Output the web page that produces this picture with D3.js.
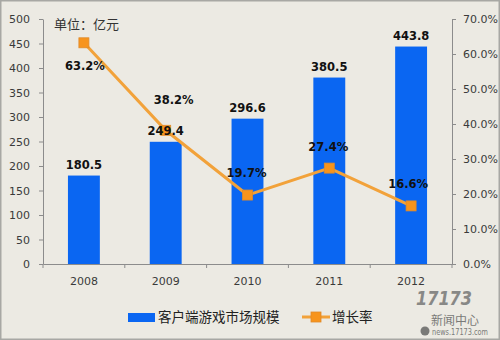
<!DOCTYPE html>
<html><head><meta charset="utf-8">
<script src="https://cdn.jsdelivr.net/npm/d3@7"></script>
<style>
html,body{margin:0;padding:0;background:#ECEAE3;}
svg{display:block;}
</style></head>
<body>
<svg id="chart" width="500" height="340"></svg>
<script>
const years = ["2008","2009","2010","2011","2012"];
const marketSize = [180.5, 249.4, 296.6, 380.5, 443.8];
const growthRate = [63.2, 38.2, 19.7, 27.4, 16.6];
const leftTicks = [0,50,100,150,200,250,300,350,400,450,500];
const rightTicks = [0,10,20,30,40,50,60,70];
const barName = "客户端游戏市场规模";
const lineName = "增长率";
const unitText = "单位：亿元";

const svg = d3.select("#chart");
const W = 500, H = 340;
const m = {l:43, r:48, t:19, b:76};
const iw = W - m.l - m.r, ih = H - m.t - m.b;

svg.append("rect").attr("x",0.5).attr("y",0.5).attr("width",W-1).attr("height",H-1)
  .attr("fill","#ECEAE3").attr("stroke","#A8A8A4").attr("stroke-width",2);

const x = d3.scaleBand().domain(years).range([m.l, m.l+iw]).paddingInner(0.61).paddingOuter(0.305);
const xb = d3.scaleBand().domain(years).range([m.l, m.l+iw]);
const yL = d3.scaleLinear().domain([0,500]).range([m.t+ih, m.t]);
const yR = d3.scaleLinear().domain([0,70]).range([m.t+ih, m.t]);

const axisColor = "#8C8C8C";
const tickFont = "DejaVu Sans, sans-serif";

const gl = svg.append("g").attr("transform",`translate(${m.l},0)`)
  .call(d3.axisLeft(yL).tickValues(leftTicks).tickSize(4).tickPadding(9).tickSizeOuter(0));
const gr = svg.append("g").attr("transform",`translate(${m.l+iw},0)`)
  .call(d3.axisRight(yR).tickValues(rightTicks).tickSize(4).tickPadding(7).tickSizeOuter(0)
    .tickFormat(d=>d.toFixed(1)+"%"));
const gb = svg.append("g").attr("transform",`translate(0,${m.t+ih})`)
  .call(d3.axisBottom(xb).tickSize(0).tickPadding(13));
const bounds = years.map(y=>xb(y)).concat([m.l+iw]);
svg.append("g").selectAll("line").data(bounds).join("line")
  .attr("x1",d=>d).attr("x2",d=>d).attr("y1",m.t+ih).attr("y2",m.t+ih+4)
  .attr("stroke",axisColor).attr("stroke-width",1);

[gl,gr,gb].forEach(g=>{
  g.selectAll("path,line").attr("stroke",axisColor);
  g.selectAll("text").attr("font-family",tickFont).attr("font-size",11).attr("fill","#3a3a3a");
});

svg.append("g").selectAll("rect").data(marketSize).join("rect")
  .attr("x",(d,i)=>x(years[i])).attr("width",x.bandwidth())
  .attr("y",d=>yL(d)).attr("height",d=>yL(0)-yL(d))
  .attr("fill","#0A66F2");

const line = d3.line().x((d,i)=>xb(years[i])+xb.bandwidth()/2).y(d=>yR(d));
svg.append("path").datum(growthRate).attr("d",line)
  .attr("fill","none").attr("stroke","#F2A23A").attr("stroke-width",3);
svg.append("g").selectAll("rect").data(growthRate).join("rect")
  .attr("x",(d,i)=>xb(years[i])+xb.bandwidth()/2-5).attr("y",d=>yR(d)-5)
  .attr("width",10).attr("height",10)
  .attr("fill","#F7941D").attr("stroke","#E08A2A").attr("stroke-width",0.8);

const labFont = "DejaVu Sans, sans-serif";
svg.append("g").selectAll("text").data(marketSize).join("text")
  .attr("x",(d,i)=>xb(years[i])+xb.bandwidth()/2)
  .attr("y",d=>yL(d)-7)
  .attr("text-anchor","middle").attr("font-family",labFont).attr("font-weight","bold")
  .attr("font-size",11.5).attr("fill","#111")
  .text(d=>d.toFixed(1));

const lblDy = [27, -26, -18, -17, -18];
const lblDx = [1, 8, -1, -1, -3];
svg.append("g").selectAll("text").data(growthRate).join("text")
  .attr("x",(d,i)=>xb(years[i])+xb.bandwidth()/2+lblDx[i])
  .attr("y",(d,i)=>yR(d)+lblDy[i])
  .attr("text-anchor","middle").attr("font-family",labFont).attr("font-weight","bold")
  .attr("font-size",11.5).attr("fill","#111")
  .text(d=>d.toFixed(1)+"%");

svg.append("text").attr("x",54).attr("y",29).text(unitText)
  .attr("font-family","Noto Sans CJK SC, sans-serif").attr("font-size",13).attr("fill","#333");

const cjk = "Noto Sans CJK SC, sans-serif";
svg.append("rect").attr("x",128).attr("y",313).attr("width",27).attr("height",9).attr("fill","#0A66F2");
svg.append("text").attr("x",158).attr("y",322).text(barName)
  .attr("font-family",cjk).attr("font-size",13.5).attr("fill","#222");
svg.append("line").attr("x1",302).attr("x2",330).attr("y1",317).attr("y2",317)
  .attr("stroke","#F2A23A").attr("stroke-width",3);
svg.append("rect").attr("x",311).attr("y",312).attr("width",10).attr("height",10)
  .attr("fill","#F7941D").attr("stroke","#E08A2A").attr("stroke-width",0.8);
svg.append("text").attr("x",332).attr("y",322).text(lineName)
  .attr("font-family",cjk).attr("font-size",13.5).attr("fill","#222");

// watermark
const wm = svg.append("g").attr("fill","#7A7A78");
wm.append("text").attr("x",416).attr("y",305).text("17173")
  .attr("font-family","DejaVu Sans, sans-serif").attr("font-weight","bold").attr("font-style","italic")
  .attr("font-size",19).attr("textLength",56).attr("lengthAdjust","spacingAndGlyphs")
  .attr("fill","#888886");
wm.append("text").attr("x",431).attr("y",325).text("新闻中心")
  .attr("font-family",cjk).attr("font-size",12);
wm.append("circle").attr("cx",425).attr("cy",331).attr("r",4.5);
wm.append("text").attr("x",432).attr("y",335).text("news.17173.com")
  .attr("font-family","DejaVu Sans, sans-serif").attr("font-size",8)
  .attr("textLength",56).attr("lengthAdjust","spacingAndGlyphs");
</script>
</body></html>
